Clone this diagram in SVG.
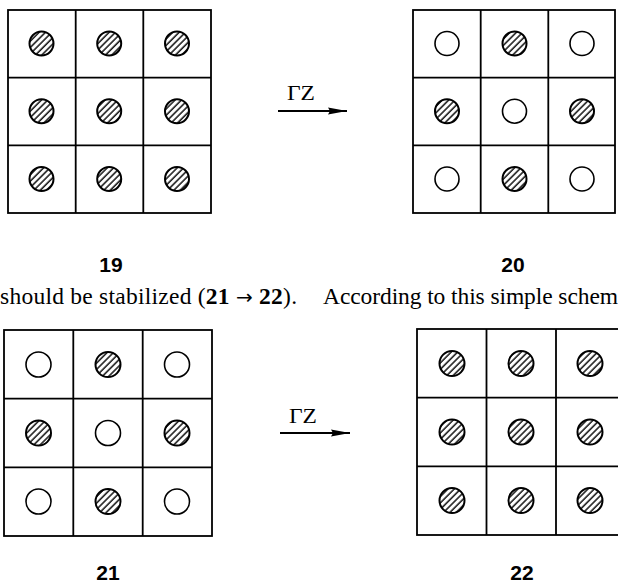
<svg xmlns="http://www.w3.org/2000/svg" width="618" height="584" viewBox="0 0 618 584">
<defs>
  <pattern id="hatch" patternUnits="userSpaceOnUse" width="4.5" height="4.5" patternTransform="rotate(45)">
    <rect width="4.5" height="4.5" fill="#fff"/>
    <line x1="1" y1="0" x2="1" y2="4.5" stroke="#000" stroke-width="1.4"/>
  </pattern>
  <marker id="ah" markerWidth="19" markerHeight="9" refX="19" refY="4.5" orient="auto" markerUnits="userSpaceOnUse">
    <path d="M0,1 L19,4.5 L0,8 L2,4.5 Z" fill="#000"/>
  </marker>
  <style>
    .grid { fill: none; stroke: #000; stroke-width: 1.8; }
    .h { fill: url(#hatch); stroke: #000; stroke-width: 2; }
    .o { fill: #fff; stroke: #000; stroke-width: 1.6; }
    .lbl { font-family: "Liberation Sans", Arial, sans-serif; font-weight: bold; font-size: 21px; text-anchor: middle; fill: #000; }
    .op { font-family: "Liberation Serif", "Times New Roman", serif; font-size: 21px; fill: #000; }
    .body { font-family: "Liberation Serif", "Times New Roman", serif; font-size: 23.5px; fill: #000; }
    .arr { stroke: #000; stroke-width: 1.8; fill: none; }
  </style>
</defs>
<rect width="618" height="584" fill="#fff"/>

<g id="grid19">
  <rect class="grid" x="8" y="10" width="203" height="203"/>
  <path class="grid" d="M75.7,10V213M143.3,10V213M8,77.7H211M8,145.3H211"/>
  <circle class="h" cx="41.5" cy="43.5" r="12"/>
  <circle class="h" cx="109.2" cy="43.5" r="12"/>
  <circle class="h" cx="177" cy="43.5" r="12"/>
  <circle class="h" cx="41.5" cy="111.2" r="12"/>
  <circle class="h" cx="109.2" cy="111.2" r="12"/>
  <circle class="h" cx="177" cy="111.2" r="12"/>
  <circle class="h" cx="41.5" cy="179" r="12"/>
  <circle class="h" cx="109.2" cy="179" r="12"/>
  <circle class="h" cx="177" cy="179" r="12"/>
  <text class="lbl" x="111" y="272">19</text>
</g>

<g id="grid20">
  <rect class="grid" x="413" y="10" width="202" height="203"/>
  <path class="grid" d="M480.7,10V213M548.3,10V213M413,77.7H615M413,145.3H615"/>
  <circle class="o" cx="447" cy="43.5" r="12"/>
  <circle class="h" cx="514.5" cy="43.5" r="12"/>
  <circle class="o" cx="582" cy="43.5" r="12"/>
  <circle class="h" cx="447" cy="111.2" r="12"/>
  <circle class="o" cx="514.5" cy="111.2" r="12"/>
  <circle class="h" cx="582" cy="111.2" r="12"/>
  <circle class="o" cx="447" cy="179" r="12"/>
  <circle class="h" cx="514.5" cy="179" r="12"/>
  <circle class="o" cx="582" cy="179" r="12"/>
  <text class="lbl" x="513" y="272">20</text>
</g>

<g id="caption">
  <text class="body" x="0" y="304" textLength="297" lengthAdjust="spacing">should be stabilized (<tspan font-weight="bold">21</tspan> <tspan font-family="DejaVu Sans, sans-serif" font-size="20px">→</tspan> <tspan font-weight="bold">22</tspan>).</text>
  <text class="body" x="323" y="304" textLength="295" lengthAdjust="spacing">According to this simple schem</text>
</g>

<g id="grid21">
  <rect class="grid" x="4" y="330" width="208" height="206"/>
  <path class="grid" d="M73.3,330V536M142.7,330V536M4,398.7H212M4,467.3H212"/>
  <circle class="o" cx="38.5" cy="364.5" r="12.5"/>
  <circle class="h" cx="108" cy="364.5" r="12.5"/>
  <circle class="o" cx="177" cy="364.5" r="12.5"/>
  <circle class="h" cx="38.5" cy="433" r="12.5"/>
  <circle class="o" cx="108" cy="433" r="12.5"/>
  <circle class="h" cx="177" cy="433" r="12.5"/>
  <circle class="o" cx="38.5" cy="501.5" r="12.5"/>
  <circle class="h" cx="108" cy="501.5" r="12.5"/>
  <circle class="o" cx="177" cy="501.5" r="12.5"/>
  <text class="lbl" x="108" y="580">21</text>
</g>

<g id="grid22">
  <rect class="grid" x="417" y="329" width="210" height="206"/>
  <path class="grid" d="M486.5,329V535M556,329V535M417,397.7H627M417,466.3H627"/>
  <circle class="h" cx="452" cy="363.5" r="12.5"/>
  <circle class="h" cx="521" cy="363.5" r="12.5"/>
  <circle class="h" cx="590" cy="363.5" r="12.5"/>
  <circle class="h" cx="452" cy="432" r="12.5"/>
  <circle class="h" cx="521" cy="432" r="12.5"/>
  <circle class="h" cx="590" cy="432" r="12.5"/>
  <circle class="h" cx="452" cy="500.5" r="12.5"/>
  <circle class="h" cx="521" cy="500.5" r="12.5"/>
  <circle class="h" cx="590" cy="500.5" r="12.5"/>
  <text class="lbl" x="522" y="580">22</text>
</g>

<g id="connectors">
  <line class="arr" x1="278" y1="111" x2="347" y2="111" marker-end="url(#ah)"/>
  <text class="op" x="287" y="100" textLength="28" lengthAdjust="spacingAndGlyphs">ΓZ</text>
  <line class="arr" x1="280" y1="433" x2="350" y2="433" marker-end="url(#ah)"/>
  <text class="op" x="289" y="423" textLength="28" lengthAdjust="spacingAndGlyphs">ΓZ</text>
</g>
</svg>
